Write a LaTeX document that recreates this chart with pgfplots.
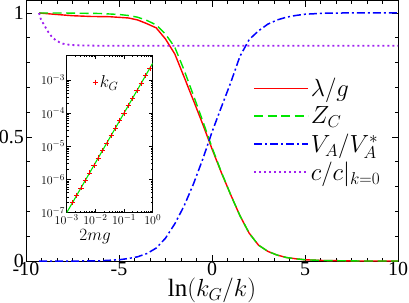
\documentclass[border=0pt]{standalone}
\usepackage{pgfplots}
\pgfplotsset{compat=1.18}
\usepackage{fontspec}
\setmainfont{Liberation Serif}
\definecolor{myviolet}{RGB}{160,32,240}
\definecolor{mygreen}{RGB}{0,230,0}
\definecolor{myblue}{RGB}{0,0,255}
\begin{document}
\begin{tikzpicture}
\begin{axis}[name=main,
  scale only axis, width=372bp, height=260.4bp,
  xmin=-10, xmax=10, ymin=0, ymax=1.05,
  xtick={-10,-5,0,5,10}, xticklabels={-10,-5,0,5,10},
  ytick={0,0.5,1}, yticklabels={0,0.5,1},
  minor x tick num=5, minor y tick num=4,
  tick align=inside, xtick pos=both, ytick pos=both,
  major tick length=6bp, minor tick length=3.5bp,
  tick style={black, line width=0.6bp},
  axis line style={line width=0.9bp},
  ticklabel style={font=\fontsize{20}{22}\selectfont},
  xticklabel style={inner sep=1.5bp},
  yticklabel style={inner sep=2bp},
  xlabel={$\ln(k_G/k)$},
  xlabel style={font=\fontsize{25}{28}\selectfont, inner sep=0pt},
  legend image code/.code={\draw[#1] (0bp,0bp) -- (54bp,0bp);},
  legend cell align=left,
  legend style={draw=none, fill=none, at={(0.61,0.71)}, anchor=north west,
    font=\fontsize{25}{27}\selectfont, row sep=4.5bp, inner sep=0pt},
]
\addplot[red, line width=1.4bp] coordinates {
(-9.3,1.000) (-8.5,0.995) (-7.5,0.989) (-6.5,0.986) (-5.5,0.985) (-4.5,0.980)
(-4.0,0.972) (-3.5,0.957) (-3.0,0.940) (-2.5,0.895) (-2.0,0.835) (-1.5,0.742)
(-1.0,0.648) (-0.5,0.552) (0.0,0.452) (0.5,0.357) (1.0,0.268) (1.5,0.183)
(2.0,0.112) (2.5,0.064) (3.0,0.039) (3.5,0.024) (4.0,0.014) (4.5,0.009)
(5.0,0.005) (6.0,0.002) (7.0,0.001) (8.0,0.0) (10.0,0.0)};
\addlegendentry{$\lambda/g$}
\addplot[mygreen, line width=1.4bp, dash pattern=on 9bp off 4.5bp] coordinates {
(-9.3,1.000) (-8,1.000) (-7,0.999) (-6,0.998) (-5,0.994) (-4.5,0.990)
(-4.0,0.983) (-3.5,0.970) (-3.0,0.952) (-2.5,0.915) (-2.0,0.862) (-1.5,0.770)
(-1.0,0.668) (-0.5,0.565) (0.0,0.458) (0.5,0.359) (1.0,0.268) (1.5,0.183)
(2.0,0.112) (2.5,0.064) (3.0,0.039) (3.5,0.024) (4.0,0.014) (4.5,0.009)
(5.0,0.005) (6.0,0.002) (7.0,0.001) (8.0,0.0) (10.0,0.0)};
\addlegendentry{$Z_C$}
\addplot[myblue, line width=1.5bp, dash pattern=on 8bp off 3bp on 2bp off 3bp] coordinates {
(-9.3,0.0) (-7,0.0) (-6,0.001) (-5,0.005) (-4.5,0.010) (-4,0.017) (-3.5,0.030)
(-3,0.052) (-2.5,0.092) (-2,0.150) (-1.5,0.222) (-1,0.310) (-0.5,0.410)
(0,0.520) (0.5,0.620) (1,0.718) (1.5,0.825) (2,0.893) (2.5,0.928) (3,0.955)
(3.5,0.972) (4,0.983) (4.5,0.990) (5,0.995) (6,0.999) (7,1.0) (10,1.0)};
\addlegendentry{$V_A/V_A^*$}
\addplot[myviolet, line width=1.8bp, dash pattern=on 2bp off 3bp] coordinates {
(-9.3,1.0) (-9.2,0.975) (-9.0,0.948) (-8.8,0.923) (-8.6,0.903) (-8.4,0.890)
(-8.2,0.882) (-8.0,0.876) (-7.6,0.871) (-7.0,0.869) (-6,0.868) (10,0.868)};
\addlegendentry{$c/c|_{k=0}$}
\end{axis}
\begin{axis}[
  at={(40.7bp,48.3bp)}, anchor=south west,
  scale only axis, width=86bp, height=157.7bp,
  xmode=log, ymode=log,
  xmin=1e-3, xmax=1, ymin=1e-7, ymax=5.6e-3,
  xtick={1e-3,1e-2,1e-1,1}, ytick={1e-7,1e-6,1e-5,1e-4,1e-3},
  tick align=inside, xtick pos=both, ytick pos=both,
  major tick length=4bp, minor tick length=2bp,
  tick style={black, line width=0.5bp},
  axis line style={line width=0.8bp},
  axis background/.style={fill=white},
  ticklabel style={font=\fontsize{12.5}{13}\selectfont, inner sep=1.5bp},
  xlabel={$2mg$},
  xlabel style={font=\fontsize{17}{18}\selectfont, inner sep=0pt,
    at={(axis description cs:0.33,0)}, anchor=north, yshift=-17bp},
  legend style={draw=none, fill=none, at={(0.3,0.827)}, anchor=west,
    font=\fontsize{18}{19}\selectfont, inner sep=0pt},
]
\addplot[red, only marks, mark=+, mark size=2.6bp, line width=0.5bp] coordinates {
(1.585e-3,1.995e-7) (2.239e-3,3.350e-7) (3.162e-3,5.623e-7) (4.467e-3,9.441e-7)
(6.310e-3,1.585e-6) (8.913e-3,2.661e-6) (1.259e-2,4.467e-6) (1.778e-2,7.499e-6)
(2.512e-2,1.259e-5) (3.548e-2,2.113e-5) (5.012e-2,3.548e-5) (7.079e-2,5.957e-5)
(0.1,1e-4) (0.1413,1.679e-4) (0.1995,2.818e-4) (0.2818,4.732e-4)
(0.3981,7.943e-4) (0.5623,1.334e-3) (0.7943,2.239e-3)};
\addlegendentry{$k_G$}
\addplot[mygreen, line width=1.1bp, forget plot] coordinates {(1e-3,1e-7) (1,3.162e-3)};
\end{axis}
\pgfresetboundingbox
\path (-26bp,-42bp) rectangle (383bp,261bp);
\end{tikzpicture}
\end{document}
